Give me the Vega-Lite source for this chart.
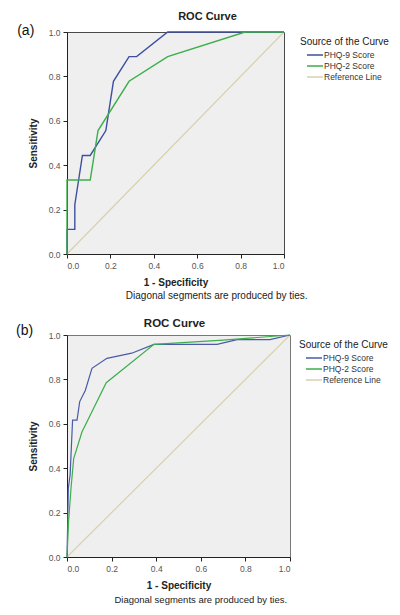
{
  "$schema": "https://vega.github.io/schema/vega-lite/v6.json",
  "padding": {"left": 15, "top": 10, "right": 5, "bottom": 5},
  "background": "white",
  "config": {
    "font": "Liberation Sans",
    "view": {"fill": "#efefef", "stroke": "#666666", "strokeWidth": 1},
    "axis": {"grid": false, "domainColor": "#222222", "tickColor": "#222222", "labelColor": "#555555", "labelFontSize": 8.5, "tickSize": 4, "titleFontWeight": "bold", "titleFontSize": 10, "titleColor": "#222222", "labelPadding": 3, "labelFont": "Liberation Sans", "titleFont": "Liberation Sans"},
    "legend": {"titleFontWeight": "normal", "titleFontSize": 10, "titleColor": "#222222", "labelFontSize": 8.5, "labelColor": "#333333", "symbolType": "M-2,0H2", "symbolSize": 64, "symbolStrokeWidth": 1.5, "symbolOffset": 10, "labelOffset": 4, "rowPadding": 1, "titlePadding": 3, "padding": 5},
    "title": {"fontWeight": "bold", "color": "#222222", "font": "Liberation Sans"}
  },
  "datasets": {
    "roc": [
      {"panel": "a", "series": "Reference Line", "i": 0, "fpr": 0, "tpr": 0},
      {"panel": "a", "series": "Reference Line", "i": 1, "fpr": 1, "tpr": 1},
      {"panel": "a", "series": "PHQ-9 Score", "i": 0, "fpr": 0, "tpr": 0},
      {"panel": "a", "series": "PHQ-9 Score", "i": 1, "fpr": 0, "tpr": 0.111},
      {"panel": "a", "series": "PHQ-9 Score", "i": 2, "fpr": 0.036, "tpr": 0.111},
      {"panel": "a", "series": "PHQ-9 Score", "i": 3, "fpr": 0.036, "tpr": 0.222},
      {"panel": "a", "series": "PHQ-9 Score", "i": 4, "fpr": 0.071, "tpr": 0.444},
      {"panel": "a", "series": "PHQ-9 Score", "i": 5, "fpr": 0.107, "tpr": 0.444},
      {"panel": "a", "series": "PHQ-9 Score", "i": 6, "fpr": 0.179, "tpr": 0.556},
      {"panel": "a", "series": "PHQ-9 Score", "i": 7, "fpr": 0.214, "tpr": 0.778},
      {"panel": "a", "series": "PHQ-9 Score", "i": 8, "fpr": 0.286, "tpr": 0.889},
      {"panel": "a", "series": "PHQ-9 Score", "i": 9, "fpr": 0.321, "tpr": 0.889},
      {"panel": "a", "series": "PHQ-9 Score", "i": 10, "fpr": 0.464, "tpr": 1},
      {"panel": "a", "series": "PHQ-9 Score", "i": 11, "fpr": 1, "tpr": 1},
      {"panel": "a", "series": "PHQ-2 Score", "i": 0, "fpr": 0, "tpr": 0},
      {"panel": "a", "series": "PHQ-2 Score", "i": 1, "fpr": 0, "tpr": 0.333},
      {"panel": "a", "series": "PHQ-2 Score", "i": 2, "fpr": 0.107, "tpr": 0.333},
      {"panel": "a", "series": "PHQ-2 Score", "i": 3, "fpr": 0.143, "tpr": 0.556},
      {"panel": "a", "series": "PHQ-2 Score", "i": 4, "fpr": 0.286, "tpr": 0.778},
      {"panel": "a", "series": "PHQ-2 Score", "i": 5, "fpr": 0.464, "tpr": 0.889},
      {"panel": "a", "series": "PHQ-2 Score", "i": 6, "fpr": 0.821, "tpr": 1},
      {"panel": "a", "series": "PHQ-2 Score", "i": 7, "fpr": 1, "tpr": 1},
      {"panel": "b", "series": "Reference Line", "i": 0, "fpr": 0, "tpr": 0},
      {"panel": "b", "series": "Reference Line", "i": 1, "fpr": 1, "tpr": 1},
      {"panel": "b", "series": "PHQ-9 Score", "i": 0, "fpr": 0, "tpr": 0},
      {"panel": "b", "series": "PHQ-9 Score", "i": 1, "fpr": 0.006, "tpr": 0.31},
      {"panel": "b", "series": "PHQ-9 Score", "i": 2, "fpr": 0.014, "tpr": 0.37},
      {"panel": "b", "series": "PHQ-9 Score", "i": 3, "fpr": 0.025, "tpr": 0.617},
      {"panel": "b", "series": "PHQ-9 Score", "i": 4, "fpr": 0.045, "tpr": 0.617},
      {"panel": "b", "series": "PHQ-9 Score", "i": 5, "fpr": 0.057, "tpr": 0.7},
      {"panel": "b", "series": "PHQ-9 Score", "i": 6, "fpr": 0.082, "tpr": 0.75},
      {"panel": "b", "series": "PHQ-9 Score", "i": 7, "fpr": 0.112, "tpr": 0.85},
      {"panel": "b", "series": "PHQ-9 Score", "i": 8, "fpr": 0.179, "tpr": 0.895},
      {"panel": "b", "series": "PHQ-9 Score", "i": 9, "fpr": 0.29, "tpr": 0.918},
      {"panel": "b", "series": "PHQ-9 Score", "i": 10, "fpr": 0.39, "tpr": 0.958},
      {"panel": "b", "series": "PHQ-9 Score", "i": 11, "fpr": 0.673, "tpr": 0.958},
      {"panel": "b", "series": "PHQ-9 Score", "i": 12, "fpr": 0.763, "tpr": 0.979},
      {"panel": "b", "series": "PHQ-9 Score", "i": 13, "fpr": 0.91, "tpr": 0.979},
      {"panel": "b", "series": "PHQ-9 Score", "i": 14, "fpr": 1, "tpr": 1},
      {"panel": "b", "series": "PHQ-2 Score", "i": 0, "fpr": 0, "tpr": 0},
      {"panel": "b", "series": "PHQ-2 Score", "i": 1, "fpr": 0.007, "tpr": 0.16},
      {"panel": "b", "series": "PHQ-2 Score", "i": 2, "fpr": 0.018, "tpr": 0.31},
      {"panel": "b", "series": "PHQ-2 Score", "i": 3, "fpr": 0.03, "tpr": 0.443},
      {"panel": "b", "series": "PHQ-2 Score", "i": 4, "fpr": 0.067, "tpr": 0.563},
      {"panel": "b", "series": "PHQ-2 Score", "i": 5, "fpr": 0.176, "tpr": 0.785},
      {"panel": "b", "series": "PHQ-2 Score", "i": 6, "fpr": 0.39, "tpr": 0.958},
      {"panel": "b", "series": "PHQ-2 Score", "i": 7, "fpr": 0.7, "tpr": 0.977},
      {"panel": "b", "series": "PHQ-2 Score", "i": 8, "fpr": 1, "tpr": 1}
    ]
  },
  "spacing": 15,
  "resolve": {"scale": {"color": "independent"}, "legend": {"color": "independent"}},
  "vconcat": [
    {
      "width": 217,
      "height": 222,
      "view": {"stroke": "#4a4a4a"},
      "title": {"text": "ROC Curve", "fontSize": 11, "dx": 32, "offset": 2},
      "layer": [
        {
          "data": {"name": "roc"},
          "transform": [{"filter": "datum.panel == 'a' && datum.series == 'Reference Line'"}],
          "mark": {"type": "line", "strokeWidth": 1.2},
          "encoding": {
            "x": {"field": "fpr", "type": "quantitative", "scale": {"domain": [0, 1], "nice": false}, "axis": {"values": [0, 0.2, 0.4, 0.6, 0.8, 1], "format": ".1f", "title": "1 - Specificity", "titlePadding": 8}},
            "y": {"field": "tpr", "type": "quantitative", "scale": {"domain": [0, 1], "nice": false}, "axis": {"values": [0, 0.2, 0.4, 0.6, 0.8, 1], "format": ".1f", "title": "Sensitivity", "titlePadding": 10}},
            "color": {"field": "series", "type": "nominal", "scale": {"domain": ["PHQ-9 Score", "PHQ-2 Score", "Reference Line"], "range": ["#3e4fa0", "#3cae4a", "#d9d0ae"]}, "legend": {"title": "Source of the Curve", "offset": 8}},
            "order": {"field": "i", "type": "quantitative"}
          }
        },
        {
          "data": {"name": "roc"},
          "transform": [{"filter": "datum.panel == 'a' && datum.series != 'Reference Line'"}],
          "mark": {"type": "line", "strokeWidth": 1.4},
          "encoding": {
            "x": {"field": "fpr", "type": "quantitative"},
            "y": {"field": "tpr", "type": "quantitative"},
            "color": {"field": "series", "type": "nominal"},
            "order": {"field": "i", "type": "quantitative"}
          }
        },
        {
          "data": {"values": [{}]},
          "mark": {"type": "text", "text": "(a)", "fontSize": 14, "align": "center", "baseline": "middle", "color": "#111111"},
          "encoding": {"x": {"datum": -0.19}, "y": {"datum": 1.005}}
        },
        {
          "data": {"values": [{}]},
          "mark": {"type": "text", "text": "Diagonal segments are produced by ties.", "fontSize": 10, "align": "center", "baseline": "middle", "color": "#222222"},
          "encoding": {"x": {"datum": 0.69}, "y": {"datum": -0.19}}
        }
      ]
    },
    {
      "width": 223,
      "height": 222,
      "view": {"stroke": "#777777"},
      "title": {"text": "ROC Curve", "fontSize": 11.5, "dx": -4, "offset": -6},
      "layer": [
        {
          "data": {"name": "roc"},
          "transform": [{"filter": "datum.panel == 'b' && datum.series == 'Reference Line'"}],
          "mark": {"type": "line", "strokeWidth": 1.2},
          "encoding": {
            "x": {"field": "fpr", "type": "quantitative", "scale": {"domain": [0, 1], "nice": false}, "axis": {"values": [0, 0.2, 0.4, 0.6, 0.8, 1], "format": ".1f", "title": "1 - Specificity", "titlePadding": 8}},
            "y": {"field": "tpr", "type": "quantitative", "scale": {"domain": [0, 1], "nice": false}, "axis": {"values": [0, 0.2, 0.4, 0.6, 0.8, 1], "format": ".1f", "title": "Sensitivity", "titlePadding": 10}},
            "color": {"field": "series", "type": "nominal", "scale": {"domain": ["PHQ-9 Score", "PHQ-2 Score", "Reference Line"], "range": ["#4a5aa8", "#3cae4a", "#d9d0ae"]}, "legend": {"title": "Source of the Curve", "offset": 1}},
            "order": {"field": "i", "type": "quantitative"}
          }
        },
        {
          "data": {"name": "roc"},
          "transform": [{"filter": "datum.panel == 'b' && datum.series != 'Reference Line'"}],
          "mark": {"type": "line", "strokeWidth": 1.2},
          "encoding": {
            "x": {"field": "fpr", "type": "quantitative"},
            "y": {"field": "tpr", "type": "quantitative"},
            "color": {"field": "series", "type": "nominal"},
            "order": {"field": "i", "type": "quantitative"}
          }
        },
        {
          "data": {"values": [{}]},
          "mark": {"type": "text", "text": "(b)", "fontSize": 14, "align": "center", "baseline": "middle", "color": "#111111"},
          "encoding": {"x": {"datum": -0.19}, "y": {"datum": 1.02}}
        },
        {
          "data": {"values": [{}]},
          "mark": {"type": "text", "text": "Diagonal segments are produced by ties.", "fontSize": 9.5, "align": "center", "baseline": "middle", "color": "#222222"},
          "encoding": {"x": {"datum": 0.6}, "y": {"datum": -0.195}}
        }
      ]
    }
  ]
}
